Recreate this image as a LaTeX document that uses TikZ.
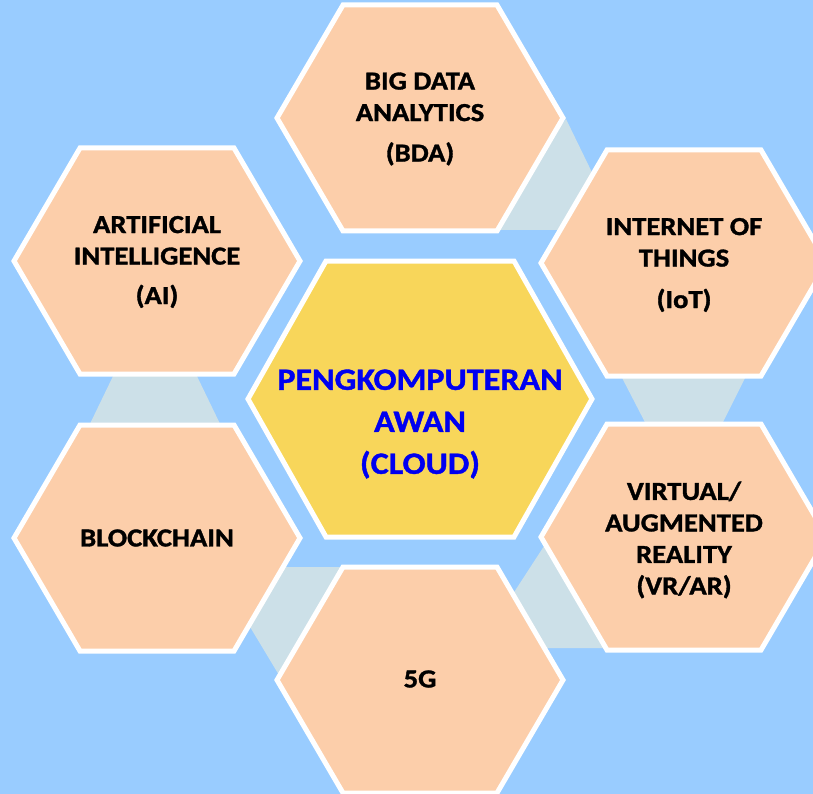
\documentclass[tikz,border=0pt]{standalone}
\usepackage{fontspec}
\newfontfamily\hexfont{Carlito}[FakeStretch=1.1, BoldFeatures={FakeBold=1.3}]
\definecolor{bgblue}{RGB}{153,204,255}
\definecolor{peach}{RGB}{252,206,170}
\definecolor{gold}{RGB}{248,214,90}
\definecolor{bandgray}{RGB}{204,224,232}
\definecolor{txtblue}{RGB}{0,0,240}
\begin{document}
\begin{tikzpicture}[x=1pt,y=-1pt,
  hexline/.style={draw=white, line width=5pt, line join=miter},
  outerhexstyle/.style={hexline, fill=peach},
  centerhexstyle/.style={hexline, fill=gold},
  band/.style={fill=bandgray, draw=none},
  outtext/.style={font=\hexfont\bfseries\fontsize{26}{31.5}\selectfont, align=center, text=black, inner sep=0pt},
  centtext/.style={font=\hexfont\bfseries\fontsize{31}{42}\selectfont, align=center, text=txtblue, inner sep=0pt},
  outerhex/.pic={\path[outerhexstyle] (-143,0) -- (-77,-113) -- (77,-113) -- (143,0) -- (77,113) -- (-77,113) -- cycle;},
  centerhex/.pic={\path[centerhexstyle] (-172,0) -- (-94,-138) -- (94,-138) -- (172,0) -- (94,138) -- (-94,138) -- cycle;}
]
\useasboundingbox (0,0) rectangle (813,794);
\clip (0,0) rectangle (813,794);
\fill[bgblue] (0,0) rectangle (813,794);

% bands between neighbouring hexagons
\path[band] (566,119) -- (620,230) -- (480,230) -- cycle;
\path[band] (618,370) -- (749,370) -- (719,430) -- (649,430) -- cycle;
\path[band] (574,500) -- (496,620) -- (520,648) -- (620,648) -- cycle;
\path[band] (214,567) -- (360,567) -- (300,710) -- cycle;
\path[band] (116,370) -- (194,370) -- (223,430) -- (87,430) -- cycle;

% hexagons
\pic at (420,118) {outerhex};
\pic at (157,261) {outerhex};
\pic at (684,263) {outerhex};
\pic at (157,538) {outerhex};
\pic at (684,537) {outerhex};
\pic at (420,680) {outerhex};
\pic at (420,399) {centerhex};

% texts
\node[outtext] (bda) at (420,119) {BIG DATA\\ANALYTICS\\[9pt](BDA)};
\node[outtext] (ai) at (157,262) {ARTIFICIAL\\INTELLIGENCE\\[8pt](AI)};
\node[outtext] (iot) at (684,265) {INTERNET OF\\THINGS\\[10pt](IoT)};
\node[outtext] (bc) at (157,538) {BLOCKCHAIN};
\node[outtext] (vr) at (684,540) {VIRTUAL/\\AUGMENTED\\REALITY\\(VR/AR)};
\node[outtext] (fiveg) at (420,679) {5G};
\node[centtext] (cloud) at (420,424) {PENGKOMPUTERAN\\AWAN\\(CLOUD)};
\end{tikzpicture}
\end{document}
